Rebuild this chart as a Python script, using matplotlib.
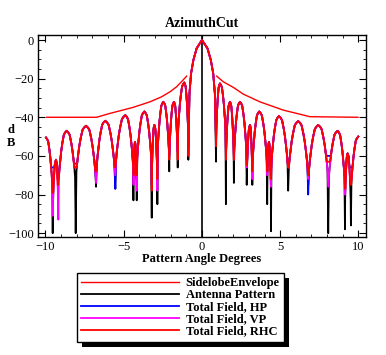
import numpy as np
import matplotlib
matplotlib.use("Agg")
import matplotlib.pyplot as plt
from matplotlib.patches import Rectangle
from matplotlib.ticker import MultipleLocator

# lobe skeleton (deg, dB); nulls sit between peaks
peak_deg = [-9.97, -9.33, -8.65, -7.41, -6.18, -4.90, -4.28, -3.68, -3.04, -2.47, -1.79, -1.13,
            0.0, 1.15, 1.79, 2.43, 3.07, 3.66, 4.28, 4.92, 6.15, 7.43, 8.67, 9.31, 9.99]
peak_db = [-50.5, -62, -47, -44.4, -41.8, -38.9, -52.7, -37, -44, -32, -32, -22,
           0, -22.5, -32, -32, -44, -37, -52.7, -39.4, -42, -44, -47, -58.7, -50]
null_deg = [-9.54, -9.18, -8.07, -6.77, -5.54, -4.38, -4.17, -3.21, -2.85, -2.09, -1.55, -0.87,
            0.90, 1.53, 2.04, 2.86, 3.22, 4.17, 4.41, 5.51, 6.79, 8.07, 9.14, 9.52]

null_black = [-100, -72, -100, -76, -77, -83, -83, -92, -85, -68, -66, -62,
              -63, -85, -74, -75, -75, -85, -99, -78, -75, -100, -98, -96]
null_hp = [-66, -68, -64, -72, -77, -70, -72, -75, -70, -60, -58, -56,
           -52, -58, -60, -62, -62, -65, -68, -64, -80, -60, -70, -66]
null_vp = [-91, -93, -66, -74, -70, -75, -78, -72, -78, -60, -58, -56,
           -52, -60, -62, -66, -72, -70, -76, -66, -72, -76, -80, -72]
null_rhc = [-79, -75, -66, -68, -66, -70, -70, -78, -72, -62, -62, -60,
            -55, -62, -62, -65, -68, -68, -72, -66, -70, -63, -77, -75]

# sidelobe shape (fraction of way to null, drop below peak)
lobe_u = [0.2, 0.34, 0.52, 0.65, 0.75, 0.85, 0.93]
lobe_drop = [1.0, 2.2, 6.5, 10.5, 14.5, 19, 24]
# main beam shape
beam_u = [0.39, 0.63, 0.8, 0.92]
beam_drop = [4.3, 10.4, 17.3, 28]

env_deg = [-9.92, -6.73, -5.88, -4.41, -3.32, -2.58, -2.04, -1.62, -1.24, -0.98, np.nan,
           0.94, 1.36, 2.0, 2.64, 3.7, 5.2, 6.9, 9.97]
env_db = [-40, -40, -38, -34.9, -32, -29.4, -26.8, -24.2, -21, -18.7, np.nan,
          -18.7, -21.6, -24.5, -28, -32, -36.3, -39.7, -40]


def build_curve(nulls):
    xs, ys = [], []
    for i, (p, v) in enumerate(zip(peak_deg, peak_db)):
        us, ds = (beam_u, beam_drop) if v == 0 else (lobe_u, lobe_drop)
        if i > 0:
            ln, lv = null_deg[i - 1], nulls[i - 1]
            for u, d in zip(us[::-1], ds[::-1]):
                xs.append(p - u * (p - ln))
                ys.append(max(v - d, lv))
        xs.append(p)
        ys.append(v)
        if i < len(null_deg):
            rn, rv = null_deg[i], nulls[i]
            for u, d in zip(us, ds):
                xs.append(p + u * (rn - p))
                ys.append(max(v - d, rv))
            xs.append(rn)
            ys.append(rv)
    return xs, ys


plt.rcParams['font.family'] = ['Liberation Serif', 'DejaVu Serif']

fig = plt.figure(figsize=(3.86, 3.55), dpi=100)
ax = fig.add_axes([0.0984, 0.3324, 0.8496, 0.569])

ax.plot(env_deg, env_db, color='#ff0000', lw=1.0, label='SidelobeEnvelope')
series = [(null_black, 'black', 'Antenna Pattern'),
          (null_hp, '#0000ff', 'Total Field, HP'),
          (null_vp, '#ff00ff', 'Total Field, VP'),
          (null_rhc, '#ff0000', 'Total Field, RHC')]
for nulls, col, lab in series:
    x, y = build_curve(nulls)
    ax.plot(x, y, color=col, lw=1.3, label=lab)

ax.axvline(0, color='black', lw=1.2, zorder=1)
ax.set_xlim(-10.48, 10.48)
ax.set_ylim(-102, 2.6)
ax.xaxis.set_major_locator(MultipleLocator(5))
ax.xaxis.set_minor_locator(MultipleLocator(1))
ax.yaxis.set_major_locator(MultipleLocator(20))
ax.yaxis.set_minor_locator(MultipleLocator(5))
ax.tick_params(which='both', direction='in', top=True, right=True, labelsize=9, pad=3)
ax.tick_params(which='major', length=5, width=0.8)
ax.tick_params(which='minor', length=2.5, width=0.6)
for s in ax.spines.values():
    s.set_linewidth(1.0)

ax.set_title('AzimuthCut', fontsize=10, fontweight='bold', pad=6)
ax.set_xlabel('Pattern Angle Degrees', fontsize=9, fontweight='bold', labelpad=0)
fig.text(0.028, 0.615, 'd\nB', fontsize=9, fontweight='bold', ha='center', va='center',
         linespacing=1.1)

leg = fig.legend(loc='upper left', bbox_to_anchor=(77 / 386, 1 - 273 / 355),
                 borderaxespad=0, handlelength=7.8, handletextpad=0.55,
                 labelspacing=0.0, borderpad=0.35,
                 fancybox=False, framealpha=1, edgecolor='black',
                 prop={'weight': 'bold', 'size': 9})
leg.get_frame().set_linewidth(1.0)
fig.canvas.draw()
bb = leg.get_window_extent().transformed(fig.transFigure.inverted())
fig.add_artist(Rectangle((bb.x0 + 5 / 386, bb.y0 - 5 / 355), bb.width, bb.height,
                         transform=fig.transFigure, facecolor='black', edgecolor='none',
                         zorder=leg.get_zorder() - 0.5))

fig.savefig('out.png', dpi=100)
